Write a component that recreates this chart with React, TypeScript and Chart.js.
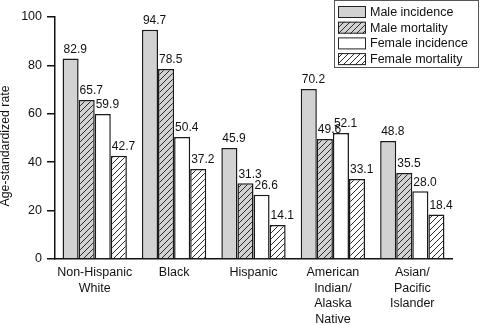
import React, { useEffect, useRef } from "react";
import { Chart, registerables } from "chart.js";
Chart.register(...registerables);

const categories = [
  ["Non-Hispanic", "White"],
  ["Black"],
  ["Hispanic"],
  ["American", "Indian/", "Alaska", "Native"],
  ["Asian/", "Pacific", "Islander"],
];
const seriesNames = ["Male incidence", "Male mortality", "Female incidence", "Female mortality"];
const maleIncidence = [82.9, 94.7, 45.9, 70.2, 48.8];
const maleMortality = [65.7, 78.5, 31.3, 49.6, 35.5];
const femaleIncidence = [59.9, 50.4, 26.6, 52.1, 28.0];
const femaleMortality = [42.7, 37.2, 14.1, 33.1, 18.4];
const yTickValues = [0, 20, 40, 60, 80, 100];
const yTitle = "Age-standardized rate";

const FONT = "'Liberation Sans', Arial, Helvetica, sans-serif";

function hatch(bg: string): CanvasPattern | string {
  const c = document.createElement("canvas");
  c.width = 6;
  c.height = 6;
  const ctx = c.getContext("2d");
  if (!ctx) return bg;
  ctx.fillStyle = bg;
  ctx.fillRect(0, 0, 6, 6);
  ctx.strokeStyle = "#2a2a2a";
  ctx.lineWidth = 1;
  ctx.beginPath();
  ctx.moveTo(0, 6);
  ctx.lineTo(6, 0);
  ctx.moveTo(-3, 3);
  ctx.lineTo(3, -3);
  ctx.moveTo(3, 9);
  ctx.lineTo(9, 3);
  ctx.stroke();
  return ctx.createPattern(c, "repeat") || bg;
}

const valueLabels = {
  id: "valueLabels",
  afterDatasetsDraw(chart: any) {
    const ctx = chart.ctx;
    ctx.save();
    ctx.font = `12px ${FONT}`;
    ctx.fillStyle = "#111";
    ctx.textAlign = "left";
    ctx.textBaseline = "bottom";
    chart.data.datasets.forEach((ds: any, di: number) => {
      const meta = chart.getDatasetMeta(di);
      meta.data.forEach((el: any, i: number) => {
        const v = ds.data[i] as number;
        ctx.fillText(v.toFixed(1), el.x - el.width / 2 + 1, el.y - 3);
      });
    });
    ctx.restore();
  },
};

const yAxisTitle = {
  id: "yAxisTitle",
  afterDraw(chart: any) {
    const ctx = chart.ctx;
    ctx.save();
    ctx.translate(6, 146);
    ctx.rotate(-Math.PI / 2);
    ctx.font = `12.3px ${FONT}`;
    ctx.fillStyle = "#111";
    ctx.textAlign = "center";
    ctx.textBaseline = "middle";
    ctx.fillText(yTitle, 0, 0);
    ctx.restore();
  },
};

const boxLegend = {
  id: "boxLegend",
  afterDraw(chart: any) {
    const ctx = chart.ctx;
    const x0 = 334.5, y0 = 0.5, w = 144, h = 67;
    ctx.save();
    ctx.fillStyle = "#fff";
    ctx.fillRect(x0, y0, w, h);
    ctx.strokeStyle = "#555";
    ctx.lineWidth = 1;
    ctx.strokeRect(x0, y0, w, h);
    ctx.font = `12.5px ${FONT}`;
    ctx.textAlign = "left";
    ctx.textBaseline = "middle";
    chart.data.datasets.forEach((ds: any, i: number) => {
      const cy = 12 + i * 15.7;
      ctx.fillStyle = ds.backgroundColor;
      ctx.fillRect(338, cy - 6, 28, 12);
      ctx.strokeStyle = "#222";
      ctx.lineWidth = 1;
      ctx.strokeRect(338.5, cy - 5.5, 27, 11);
      ctx.fillStyle = "#111";
      ctx.fillText(ds.label, 370, cy + 0.5);
    });
    ctx.restore();
  },
};

export default function App() {
  const ref = useRef<HTMLCanvasElement>(null);
  useEffect(() => {
    if (!ref.current) return;
    const gray = "#d2d2d2";
    const fills = [gray, hatch(gray), "#ffffff", hatch("#ffffff")];
    const series = [maleIncidence, maleMortality, femaleIncidence, femaleMortality];
    const chart = new Chart(ref.current, {
      type: "bar",
      data: {
        labels: categories as any,
        datasets: series.map((d, i) => ({
          label: seriesNames[i],
          data: d,
          backgroundColor: fills[i] as any,
          borderColor: "#1a1a1a",
          borderWidth: 1.5,
          categoryPercentage: 0.81,
          barPercentage: 1,
        })),
      },
      options: {
        responsive: false,
        animation: false,
        layout: { padding: { top: 17, right: 30, left: 0, bottom: 0 } },
        plugins: { legend: { display: false }, tooltip: { enabled: false } },
        scales: {
          x: {
            grid: { display: false, drawTicks: false },
            border: { display: true, color: "#111", width: 1.5 },
            ticks: {
              color: "#111",
              padding: 6,
              font: { family: FONT, size: 12.5, lineHeight: 1.24 },
              maxRotation: 0,
              autoSkip: false,
            },
            afterFit(scale: any) {
              scale.height = 66;
            },
          },
          y: {
            min: 0,
            max: 100,
            afterBuildTicks(scale: any) {
              scale.ticks = yTickValues.map((v) => ({ value: v }));
            },
            grid: {
              display: true,
              drawOnChartArea: false,
              drawTicks: true,
              tickLength: 8,
              color: "#111",
              lineWidth: 1.5,
            },
            border: { display: true, color: "#111", width: 1.5 },
            ticks: {
              color: "#111",
              padding: 5,
              font: { family: FONT, size: 12.5 },
            },
            title: { display: false },
            afterFit(scale: any) {
              scale.width = 55;
            },
          },
        },
      },
      plugins: [valueLabels, yAxisTitle, boxLegend],
    });
    return () => chart.destroy();
  }, []);
  return (
    <div style={{ position: "absolute", left: 0, top: 0, width: 482, height: 325, background: "#fff" }}>
      <canvas ref={ref} width={482} height={325} />
    </div>
  );
}
